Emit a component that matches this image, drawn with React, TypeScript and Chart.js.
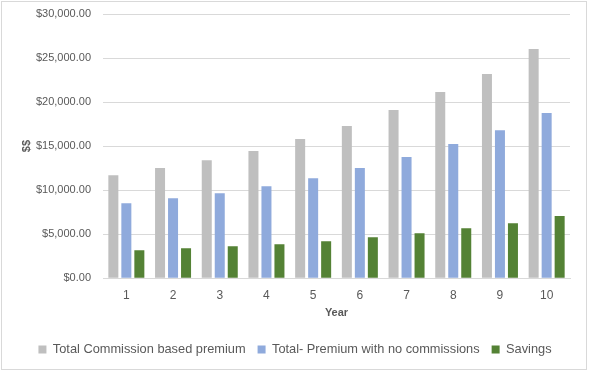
import React, { useEffect, useRef } from "react";
import { Chart, registerables } from "chart.js";

Chart.register(...registerables);

const years = ["1", "2", "3", "4", "5", "6", "7", "8", "9", "10"];
const commissionPremium = [11700, 12500, 13400, 14430, 15800, 17270, 19090, 21140, 23180, 26020];
const noCommissionPremium = [8520, 9090, 9660, 10450, 11360, 12500, 13750, 15230, 16800, 18750];
const savings = [3180, 3410, 3640, 3860, 4200, 4660, 5110, 5680, 6250, 7050];
const seriesNames = ["Total Commission based premium", "Total- Premium with no commissions", "Savings"];

const FONT = "'Liberation Sans', Arial, sans-serif";

const framePlugin = {
  id: "frame",
  beforeDraw(chart: any) {
    const ctx = chart.ctx;
    ctx.save();
    ctx.fillStyle = "#ffffff";
    ctx.fillRect(0, 0, chart.width, chart.height);
    ctx.strokeStyle = "#d9d9d9";
    ctx.lineWidth = 1;
    ctx.strokeRect(1.5, 1.5, chart.width - 4, chart.height - 4);
    ctx.restore();
  },
};

export default function App() {
  const ref = useRef<HTMLCanvasElement>(null);
  useEffect(() => {
    document.body.style.margin = "0";
    const chart = new Chart(ref.current!, {
      type: "bar",
      data: {
        labels: years,
        datasets: [
          { label: seriesNames[0], data: commissionPremium, backgroundColor: "#bfbfbf" },
          { label: seriesNames[1], data: noCommissionPremium, backgroundColor: "#8faadc" },
          { label: seriesNames[2], data: savings, backgroundColor: "#548235" },
        ],
      },
      options: {
        animation: false,
        responsive: false,
        maintainAspectRatio: false,
        datasets: { bar: { categoryPercentage: 0.835, barPercentage: 0.77 } },
        layout: { padding: { top: 14, right: 19, bottom: 6, left: 20 } },
        plugins: {
          legend: {
            position: "bottom",
            labels: {
              boxWidth: 8,
              boxHeight: 8,
              padding: 12,
              color: "#595959",
              font: { family: FONT, size: 12.8 },
            },
          },
          tooltip: { enabled: false },
        },
        scales: {
          x: {
            grid: { display: false, drawTicks: false, tickLength: 0 },
            border: { color: "#d9d9d9" },
            ticks: { color: "#595959", font: { family: FONT, size: 12 }, padding: 10 },
            title: {
              display: true,
              text: "Year",
              color: "#595959",
              font: { family: FONT, size: 11, weight: "bold" },
              padding: { top: 4, bottom: 12 },
            },
            afterFit(scale: any) {
              scale.height = 53;
            },
          },
          y: {
            min: 0,
            max: 30000,
            grid: { color: "#d9d9d9", tickLength: 0 },
            border: { display: false },
            ticks: {
              stepSize: 5000,
              color: "#595959",
              padding: 12,
              font: { family: FONT, size: 11 },
              callback: (v: any) =>
                "$" + Number(v).toLocaleString("en-US", { minimumFractionDigits: 2, maximumFractionDigits: 2 }),
            },
            title: {
              display: true,
              text: "$$",
              color: "#595959",
              font: { family: FONT, size: 11, weight: "bold" },
              padding: 0,
            },
            afterFit(scale: any) {
              scale.width = 83;
              scale.paddingTop = 0;
              scale.paddingBottom = 0;
            },
          },
        },
      },
      plugins: [framePlugin],
    } as any);
    return () => chart.destroy();
  }, []);
  return <canvas ref={ref} width={589} height={372} style={{ display: "block" }} />;
}
